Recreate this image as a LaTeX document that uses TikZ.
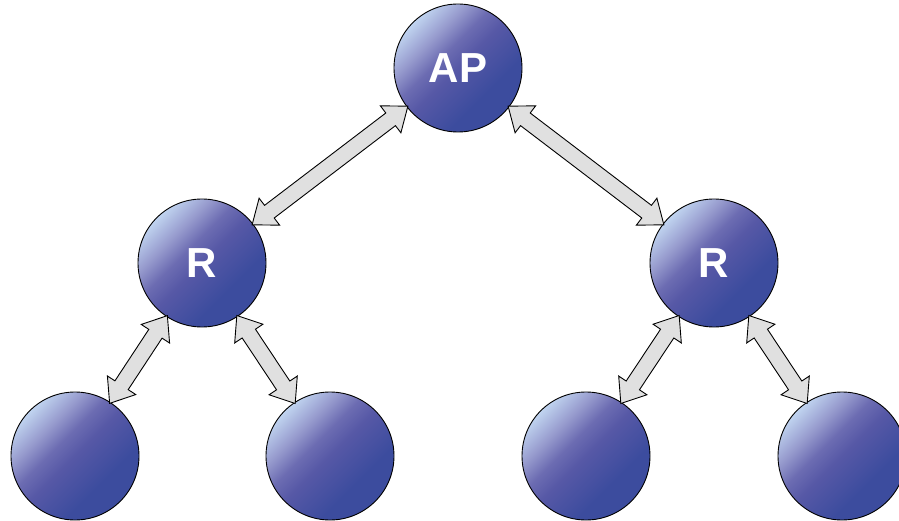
\documentclass[tikz,border=0pt]{standalone}
\usepackage{fontspec}
\setmainfont{Liberation Sans}
\usetikzlibrary{shapes.arrows,calc}
\definecolor{ballLight}{RGB}{192,212,240}
\definecolor{ballLav}{RGB}{150,154,205}
\definecolor{ballMid}{RGB}{108,108,178}
\definecolor{ballCtr}{RGB}{86,88,166}
\definecolor{ballDark}{RGB}{60,76,158}
\definecolor{arrFill}{RGB}{224,224,224}
\pgfdeclareverticalshading{ballshade}{100bp}{%
  color(0bp)=(ballDark); color(35bp)=(ballDark); color(50bp)=(ballCtr);
  color(57.5bp)=(ballMid); color(65bp)=(ballLav); color(75bp)=(ballLight); color(100bp)=(ballLight)}
\tikzset{
  ball/.style={circle, draw=black, line width=0.9pt, minimum size=128pt, inner sep=0pt,
    shading=ballshade, shading angle=45,
    text=white, font=\fontsize{42}{42}\selectfont\bfseries},
  darr/.style={double arrow, draw=black, fill=arrFill, line width=0.9pt, inner sep=0pt,
    minimum width=33pt, double arrow head extend=9pt, double arrow tip angle=76, outer sep=0pt,
    text height=15pt, text depth=0pt},
}
\newcommand{\linkarrow}[2]{%
  \path let \p1=(#1.center), \p2=(#2.center), \p3=($(\p2)-(\p1)$),
    \n1={veclen(\x3,\y3)-126pt}, \n2={atan2(\y3,\x3)} in
    ($(\p1)!0.5!(\p2)$) node[darr, rotate=\n2, minimum height=\n1] {};}
\begin{document}
\begin{tikzpicture}[x=1pt,y=-1pt]
\useasboundingbox (0,0) rectangle (899,521);
\clip (0,0) rectangle (899,521);
\node[ball] (ap) at (458,68) {AP};
\node[ball] (r1) at (202,263) {R};
\node[ball] (r2) at (714,263) {R};
\node[ball] (l1) at (75,456) {};
\node[ball] (l2) at (330,456) {};
\node[ball] (l3) at (586,456) {};
\node[ball] (l4) at (842,456) {};
\linkarrow{r1}{ap}
\linkarrow{ap}{r2}
\linkarrow{r1}{l1}
\linkarrow{r1}{l2}
\linkarrow{r2}{l3}
\linkarrow{r2}{l4}
\end{tikzpicture}
\end{document}
